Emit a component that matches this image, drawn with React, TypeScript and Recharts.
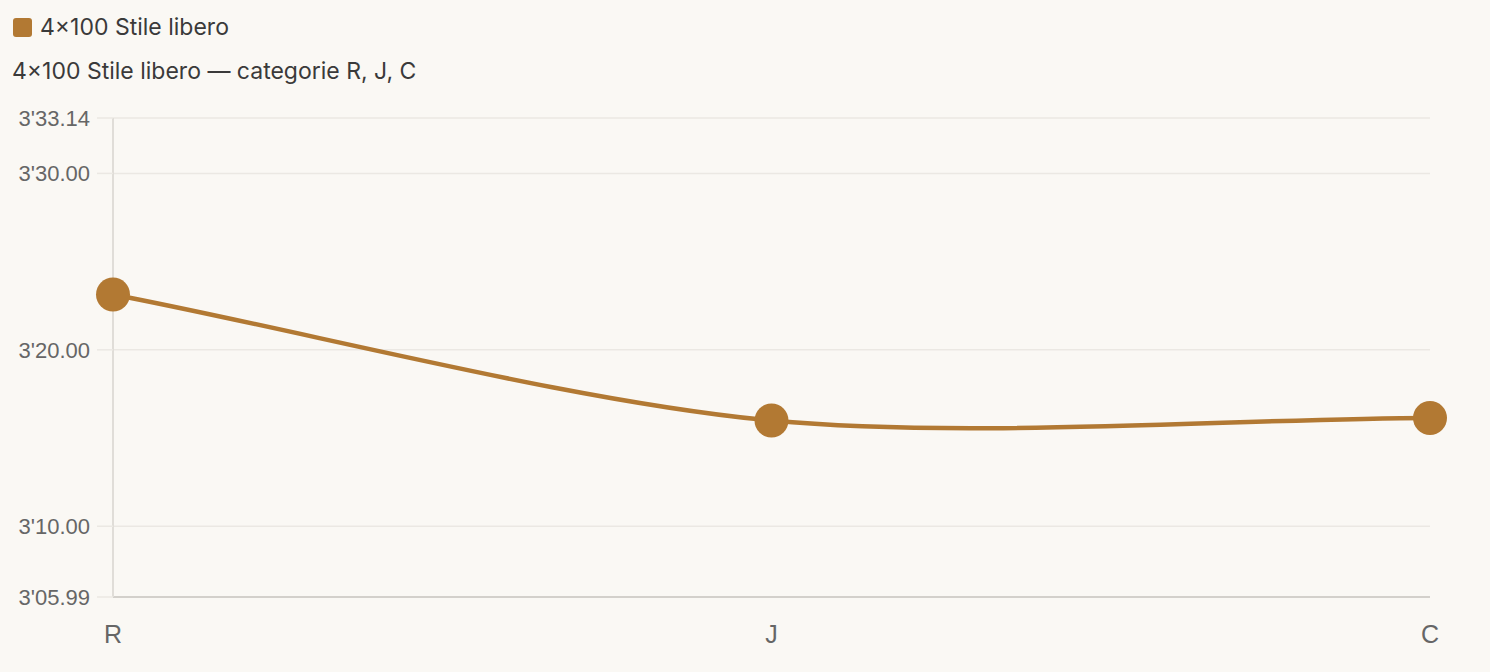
import React from "react";
import { LineChart, Line, XAxis, YAxis, CartesianGrid } from "recharts";

const categories = ["R", "J", "C"];
const times = [203.14, 195.99, 196.14];
const yTicks = [185.99, 190, 200, 210, 213.14];
const seriesName = "4×100 Stile libero";
const subtitle = "4×100 Stile libero — categorie R, J, C";

const data = categories.map((c, i) => ({ cat: c, t: times[i] }));

const fmt = (v: number) => {
  const m = Math.floor(v / 60);
  const s = v - m * 60;
  const ss = s.toFixed(2).padStart(5, "0");
  return `${m}'${ss}`;
};

const COLOR = "#b27933";
const TENSION = 0.3;

// Spline with distance-weighted control points (tension-based)
function splineFactory(context: any) {
  let pts: [number, number][] = [];
  return {
    areaStart() {},
    areaEnd() {},
    lineStart() {
      pts = [];
    },
    point(x: number, y: number) {
      pts.push([+x, +y]);
    },
    lineEnd() {
      const n = pts.length;
      if (!n) return;
      const cps = pts.map((cur, i) => {
        const prev = pts[i - 1] || cur;
        const next = pts[i + 1] || cur;
        const d01 = Math.hypot(cur[0] - prev[0], cur[1] - prev[1]);
        const d12 = Math.hypot(next[0] - cur[0], next[1] - cur[1]);
        let s01 = d01 / (d01 + d12);
        let s12 = d12 / (d01 + d12);
        if (isNaN(s01)) s01 = 0;
        if (isNaN(s12)) s12 = 0;
        const fa = TENSION * s01;
        const fb = TENSION * s12;
        return {
          prev: [cur[0] - fa * (next[0] - prev[0]), cur[1] - fa * (next[1] - prev[1])],
          next: [cur[0] + fb * (next[0] - prev[0]), cur[1] + fb * (next[1] - prev[1])],
        };
      });
      context.moveTo(pts[0][0], pts[0][1]);
      for (let i = 1; i < n; i++) {
        const a = cps[i - 1].next;
        const b = cps[i].prev;
        context.bezierCurveTo(a[0], a[1], b[0], b[1], pts[i][0], pts[i][1]);
      }
    },
  };
}

export default function App() {
  return (
    <div style={{ position: "fixed", left: 0, top: 0, width: 1490, height: 672, background: "#faf8f4" }}>
      <div style={{ position: "absolute", left: 13, top: 13, display: "flex", alignItems: "center", fontFamily: "Inter, 'Noto Sans', sans-serif", fontSize: 23, color: "#3a3a3a" }}>
        <span style={{ display: "inline-block", width: 19, height: 19, background: COLOR, borderRadius: 3, marginRight: 8 }} />
        <span>{seriesName}</span>
      </div>
      <div style={{ position: "absolute", left: 12, top: 57, fontFamily: "Inter, 'Noto Sans', sans-serif", fontSize: 23, color: "#3a3a3a" }}>
        {subtitle}
      </div>
      <div style={{ position: "absolute", left: 0, top: 0 }}>
        <LineChart width={1490} height={672} data={data} margin={{ top: 118, right: 60, bottom: 0, left: 0 }}>
          <CartesianGrid vertical={false} stroke="#ebe8e3" strokeWidth={1.5} />
          <XAxis
            dataKey="cat"
            height={75}
            tickLine={false}
            axisLine={{ stroke: "#d3d0cb", strokeWidth: 2 }}
            tick={{ fill: "#666", fontSize: 25, fontFamily: "'Liberation Sans', Arial, sans-serif" }}
            tickMargin={22}
            interval={0}
            padding={{ left: 0, right: 0 }}
          />
          <YAxis
            type="number"
            domain={[185.99, 213.14]}
            ticks={yTicks}
            width={113}
            tickFormatter={fmt}
            tickSize={16}
            tickMargin={7}
            tickLine={{ stroke: "#ebe8e3", strokeWidth: 1.5 }}
            axisLine={{ stroke: "#e0ddd8", strokeWidth: 2 }}
            tick={{ fill: "#666", fontSize: 22, fontFamily: "'Liberation Sans', Arial, sans-serif" }}
            allowDataOverflow
          />
          <Line
            type={splineFactory as any}
            dataKey="t"
            stroke={COLOR}
            strokeWidth={4.5}
            dot={{ r: 17, fill: COLOR, stroke: COLOR, strokeWidth: 0 }}
            activeDot={false}
            isAnimationActive={false}
          />
        </LineChart>
      </div>
    </div>
  );
}
